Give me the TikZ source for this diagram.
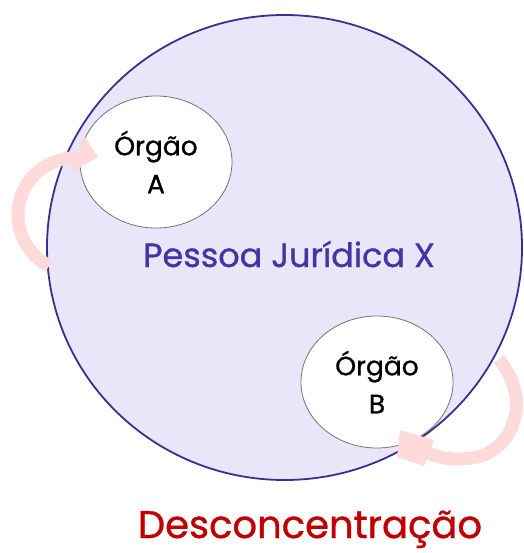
\documentclass[tikz,border=0pt]{standalone}
\usepackage{fontspec}
\setmainfont{Poppins}[FakeBold=0.9]
\usetikzlibrary{shapes.geometric,calc}
\definecolor{lav}{RGB}{232,230,248}
\definecolor{lavborder}{RGB}{58,46,145}
\definecolor{pj}{RGB}{69,52,166}
\definecolor{pinkband}{RGB}{255,218,218}
\definecolor{redtxt}{RGB}{192,0,0}
\tikzset{
  orgao/.style={ellipse, draw=gray!90!black, line width=0.8pt, fill=white,
    minimum width=152pt, minimum height=132pt, inner sep=0pt, align=center,
    font=\fontsize{26.5}{38}\selectfont},
  band/.style={draw=pinkband, line width=13pt, line cap=butt},
  head/.style={fill=pinkband, draw=none}
}
\begin{document}
\begin{tikzpicture}[x=1pt,y=-1pt]
\useasboundingbox (0,0) rectangle (523,553);
% big circle
\node[ellipse, draw=lavborder, fill=lav, line width=1.8pt,
  minimum width=475pt, minimum height=465pt, inner sep=0pt] (pj) at (284.5,247.5) {};
\node[anchor=base, text=pj, font=\fontsize{33.5}{40}\selectfont] (pjt) at (289,267) {Pessoa Jurídica X};
% organs
\node[orgao] (oa) at (156,162) {\raisebox{-10pt}{\parbox{100pt}{\centering Órgão\\A}}};
\node[orgao] (ob) at (377,382) {\raisebox{-10pt}{\parbox{100pt}{\centering Órgão\\B}}};
% arrow A
\coordinate (ca) at (75,215);
\coordinate (aA) at (85,137);
\coordinate (tA) at (98,157);
\coordinate (bA) at (69,174);
\draw[band] ($(ca)+(117:57)$) arc[start angle=117, end angle=276, radius=57];
\fill[head] (aA) -- (tA) -- (bA) -- cycle;
% arrow B
\coordinate (sB) at (499,359);
\coordinate (eB) at (426,452);
\draw[band] plot[smooth, tension=0.6] coordinates {(sB) (512,381) (516.5,408) (507,436) (486,454) (460,459) (440,457) (eB)};
\fill[head] (400,430) -- (434,440) -- (424,466) -- (397,457) -- cycle;
% title
\node[anchor=base, text=redtxt, font=\fontsize{38.5}{46}\selectfont] (des) at (310,538) {Desconcentração};
\end{tikzpicture}
\end{document}
